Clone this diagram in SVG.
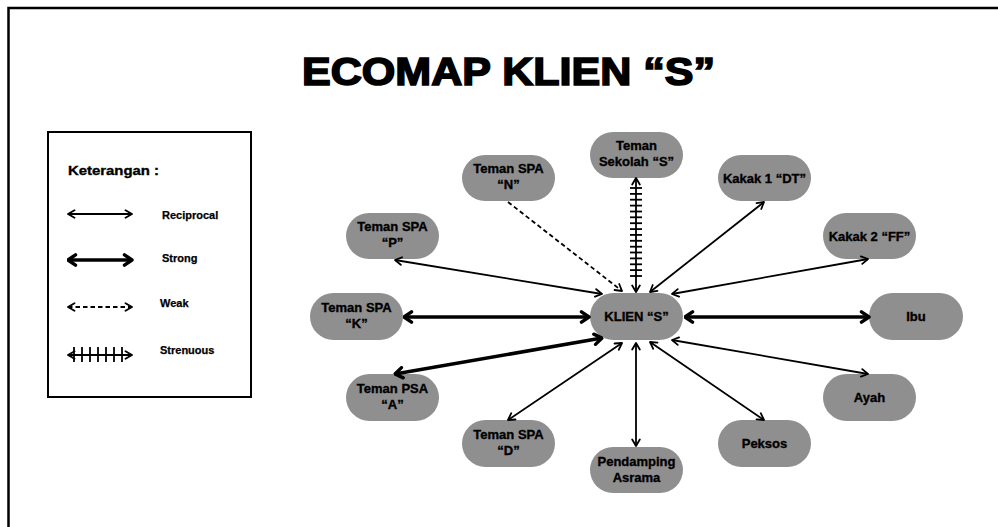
<svg xmlns="http://www.w3.org/2000/svg" width="998" height="527" viewBox="0 0 998 527">
<defs>
<style>
.node rect{fill:#8f8f8f;}
.node text,.lbl{font-family:"Liberation Sans",Arial,sans-serif;font-weight:bold;fill:#000;}
.node text{font-size:13px;text-anchor:middle;stroke:#000;stroke-width:0.35;}
.thin{stroke:#000;stroke-width:1.8;fill:none;marker-start:url(#aThin);marker-end:url(#aThin);}
.strong{stroke:#000;stroke-width:3.6;fill:none;marker-start:url(#aStrong);marker-end:url(#aStrong);}
.weak{stroke:#000;stroke-width:1.8;fill:none;stroke-dasharray:4.5 3;}
.tick{stroke:#000;stroke-width:1.8;}
</style>
<marker id="aThin" viewBox="0 0 10 10" refX="9" refY="5" markerWidth="10" markerHeight="10" markerUnits="userSpaceOnUse" orient="auto-start-reverse">
<path d="M2.5,1.2 L9,5 L2.5,8.8" fill="none" stroke="#000" stroke-width="1.8" stroke-linejoin="round" stroke-linecap="round"/>
</marker>
<marker id="aStrong" viewBox="0 0 12 14" refX="10.5" refY="7" markerWidth="12" markerHeight="14" markerUnits="userSpaceOnUse" orient="auto-start-reverse">
<path d="M3,1.8 L10.5,7 L3,12.2" fill="none" stroke="#000" stroke-width="3.4" stroke-linejoin="round" stroke-linecap="round"/>
</marker>
</defs>
<rect x="0" y="0" width="998" height="527" fill="#fff"/>
<rect x="8.5" y="8" width="1000" height="530" fill="none" stroke="#000" stroke-width="2.5"/>
<text class="lbl" x="302" y="85" font-size="38" stroke="#000" stroke-width="1.6" textLength="413" lengthAdjust="spacingAndGlyphs">ECOMAP KLIEN “S”</text>

<g id="legend">
<rect x="48" y="132" width="203" height="265" fill="none" stroke="#000" stroke-width="2"/>
<text class="lbl" x="68" y="175" font-size="13.5" stroke="#000" stroke-width="0.35" textLength="91" lengthAdjust="spacingAndGlyphs">Keterangan :</text>
<line class="thin" x1="68" y1="214" x2="132" y2="214"/>
<text class="lbl" x="162" y="219" font-size="11" stroke="#000" stroke-width="0.25">Reciprocal</text>
<line class="strong" x1="68" y1="260" x2="132" y2="260"/>
<text class="lbl" x="162" y="262" font-size="11" stroke="#000" stroke-width="0.25">Strong</text>
<line class="weak" x1="68" y1="307" x2="132" y2="307" marker-start="url(#aThin)" marker-end="url(#aThin)"/>
<text class="lbl" x="160" y="307" font-size="11" stroke="#000" stroke-width="0.25">Weak</text>
<line class="thin" x1="68" y1="355" x2="132" y2="355"/>
<g class="tick">
<line x1="74" y1="347" x2="74" y2="362"/><line x1="82" y1="347" x2="82" y2="362"/><line x1="90" y1="347" x2="90" y2="362"/><line x1="98" y1="347" x2="98" y2="362"/><line x1="106" y1="347" x2="106" y2="362"/><line x1="114" y1="347" x2="114" y2="362"/><line x1="122" y1="347" x2="122" y2="362"/>
</g>
<text class="lbl" x="160" y="354" font-size="11" stroke="#000" stroke-width="0.25">Strenuous</text>
</g>

<g id="klien" class="node"><rect x="590" y="293" width="93" height="47" rx="23.5"/><text x="636.5" y="321">KLIEN “S”</text></g>
<g id="sekolah" class="node"><rect x="590" y="132" width="93" height="46" rx="23"/><text x="636.5" y="150">Teman</text><text x="636.5" y="166">Sekolah “S”</text></g>
<g id="spa-n" class="node"><rect x="462" y="155" width="93" height="46" rx="23"/><text x="508.5" y="173">Teman SPA</text><text x="508.5" y="189">“N”</text></g>
<g id="spa-p" class="node"><rect x="346" y="213" width="93" height="46" rx="23"/><text x="392.5" y="231">Teman SPA</text><text x="392.5" y="247">“P”</text></g>
<g id="spa-k" class="node"><rect x="310" y="293" width="93" height="47" rx="23.5"/><text x="356.5" y="312">Teman SPA</text><text x="356.5" y="328">“K”</text></g>
<g id="psa-a" class="node"><rect x="346" y="374" width="93" height="47" rx="23.5"/><text x="392.5" y="393">Teman PSA</text><text x="392.5" y="409">“A”</text></g>
<g id="spa-d" class="node"><rect x="462" y="420" width="93" height="47" rx="23.5"/><text x="508.5" y="439">Teman SPA</text><text x="508.5" y="455">“D”</text></g>
<g id="pendamping" class="node"><rect x="590" y="447" width="93" height="46" rx="23"/><text x="636.5" y="466">Pendamping</text><text x="636.5" y="482">Asrama</text></g>
<g id="peksos" class="node"><rect x="718" y="420" width="93" height="47" rx="23.5"/><text x="764.5" y="448">Peksos</text></g>
<g id="ayah" class="node"><rect x="823" y="374" width="93" height="47" rx="23.5"/><text x="869.5" y="402">Ayah</text></g>
<g id="ibu" class="node"><rect x="869" y="293" width="94" height="47" rx="23.5"/><text x="916" y="321">Ibu</text></g>
<g id="kakak2" class="node"><rect x="823" y="213" width="93" height="46" rx="23"/><text x="869.5" y="240.5">Kakak 2 “FF”</text></g>
<g id="kakak1" class="node"><rect x="718" y="155" width="93" height="46" rx="23"/><text x="764.5" y="182.5">Kakak 1 “DT”</text></g>

<g id="connectors">
<line class="thin" x1="602" y1="294" x2="395" y2="260"/>
<line class="strong" x1="589" y1="317" x2="404" y2="317"/>
<line class="strong" x1="602" y1="338" x2="395" y2="374"/>
<line class="thin" x1="622" y1="343" x2="508" y2="420"/>
<line class="thin" x1="636" y1="343" x2="636" y2="446"/>
<line class="thin" x1="650" y1="342" x2="764" y2="420"/>
<line class="thin" x1="672" y1="340" x2="868" y2="374"/>
<line class="strong" x1="685" y1="317" x2="869" y2="317"/>
<line class="thin" x1="672" y1="294" x2="868" y2="259"/>
<line class="thin" x1="650" y1="292" x2="764" y2="202"/>
<line class="thin" x1="636" y1="292" x2="636" y2="178"/>
<g class="tick">
<line x1="630" y1="188" x2="642" y2="188"/><line x1="630" y1="193.9" x2="642" y2="193.9"/><line x1="630" y1="199.7" x2="642" y2="199.7"/><line x1="630" y1="205.6" x2="642" y2="205.6"/><line x1="630" y1="211.5" x2="642" y2="211.5"/><line x1="630" y1="217.3" x2="642" y2="217.3"/><line x1="630" y1="223.2" x2="642" y2="223.2"/><line x1="630" y1="229.1" x2="642" y2="229.1"/><line x1="630" y1="234.9" x2="642" y2="234.9"/><line x1="630" y1="240.8" x2="642" y2="240.8"/><line x1="630" y1="246.7" x2="642" y2="246.7"/><line x1="630" y1="252.5" x2="642" y2="252.5"/><line x1="630" y1="258.4" x2="642" y2="258.4"/><line x1="630" y1="264.3" x2="642" y2="264.3"/><line x1="630" y1="270.1" x2="642" y2="270.1"/><line x1="630" y1="276" x2="642" y2="276"/>
</g>
<line class="weak" x1="508" y1="202" x2="622" y2="291" marker-end="url(#aThin)"/>
</g>
</svg>
